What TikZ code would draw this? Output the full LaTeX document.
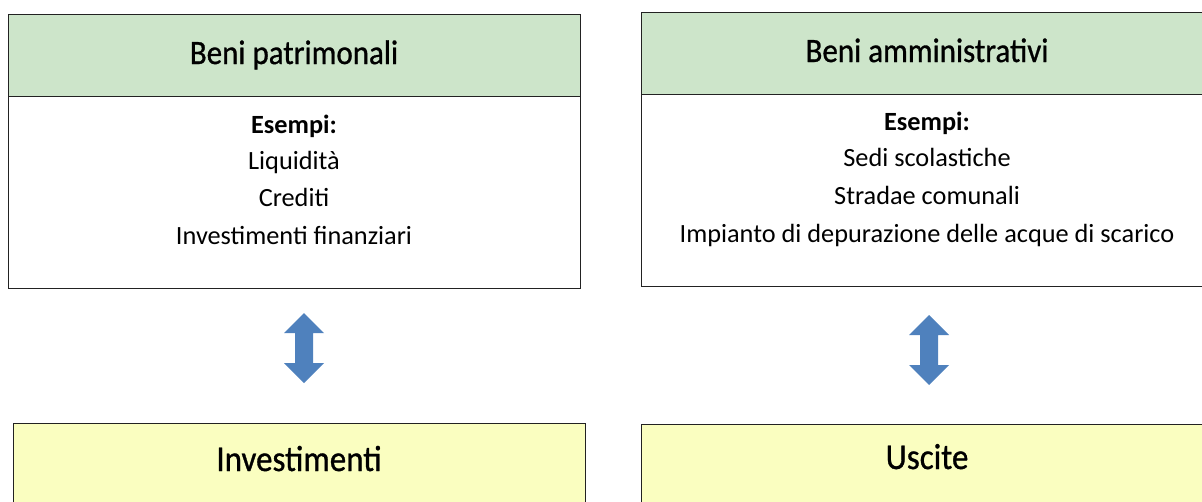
\documentclass[tikz,border=0pt]{standalone}
\usepackage{fontspec}
\setmainfont{Carlito}
\newfontfamily\hdrfont[FakeBold=0.9]{Carlito}
\usetikzlibrary{calc}
\definecolor{hdrgreen}{HTML}{CDE5CA}
\definecolor{boxyellow}{HTML}{FAFEC0}
\definecolor{arrowblue}{HTML}{4F81BD}
\definecolor{edgegray}{HTML}{222222}
\newcommand{\tallish}[1]{\scalebox{1}[1.1]{#1}}
\begin{document}
\begin{tikzpicture}[x=1pt,y=-1pt,
  frame/.style={draw=edgegray, line width=0.9pt, inner sep=0pt, outer sep=0pt, anchor=north west},
  hdrbox/.style={frame, fill=hdrgreen},
  bodybox/.style={frame, fill=white},
  lowbox/.style={frame, fill=boxyellow},
  hdrtext/.style={inner sep=0pt, anchor=base, font=\hdrfont\fontsize{31}{36}\selectfont},
  lowtext/.style={inner sep=0pt, anchor=base, font=\hdrfont\fontsize{33}{38}\selectfont},
  bodytext/.style={inner sep=0pt, anchor=base, font=\fontsize{26.3}{31}\selectfont},
  boldtext/.style={bodytext, font=\fontsize{26.3}{31}\selectfont\bfseries},
  dblarrow/.style={fill=arrowblue, draw=none}
]
\useasboundingbox (0,0) rectangle (1202,501);
% left column
\node[bodybox, minimum width=572pt, minimum height=192pt] (lbody) at (8,96) {};
\node[hdrbox, minimum width=572pt, minimum height=82pt] (lhead) at (8,14) {};
\node[hdrtext] (lht) at (294,64) {\tallish{Beni patrimonali}};
\node[boldtext] (l1) at (294,133) {Esempi:};
\node[bodytext] (l2) at (294,169) {Liquidità};
\node[bodytext] (l3) at (294,206) {Crediti};
\node[bodytext] (l4) at (294,244) {Investimenti finanziari};
% right column
\node[bodybox, minimum width=570pt, minimum height=192pt] (rbody) at (641,94) {};
\node[hdrbox, minimum width=570pt, minimum height=82pt] (rhead) at (641,12) {};
\node[hdrtext] (rht) at (927,62) {\tallish{Beni amministrativi}};
\node[boldtext] (r1) at (927,130) {Esempi:};
\node[bodytext] (r2) at (927,166) {Sedi scolastiche};
\node[bodytext] (r3) at (927,204) {Stradae comunali};
\node[bodytext] (r4) at (927,242) {Impianto di depurazione delle acque di scarico};
% lower boxes
\node[lowbox, minimum width=572pt, minimum height=100pt] (lbox) at (13,423) {};
\node[lowbox, minimum width=570pt, minimum height=100pt] (rbox) at (641,424) {};
\node[lowtext] (lbt) at (299,471) {\tallish{Investimenti}};
\node[lowtext] (rbt) at (927,469) {\tallish{Uscite}};
% double arrows
\coordinate (la) at (304,348);
\coordinate (ra) at (929,350);
\foreach \c in {la,ra}{
  \fill[dblarrow] ($(\c)+(0,-35)$) -- ++(20,20) -- ++(-11,0) -- ++(0,30) -- ++(11,0)
    -- ++(-20,20) -- ++(-20,-20) -- ++(11,0) -- ++(0,-30) -- ++(-11,0) -- cycle;
}
\end{tikzpicture}
\end{document}
